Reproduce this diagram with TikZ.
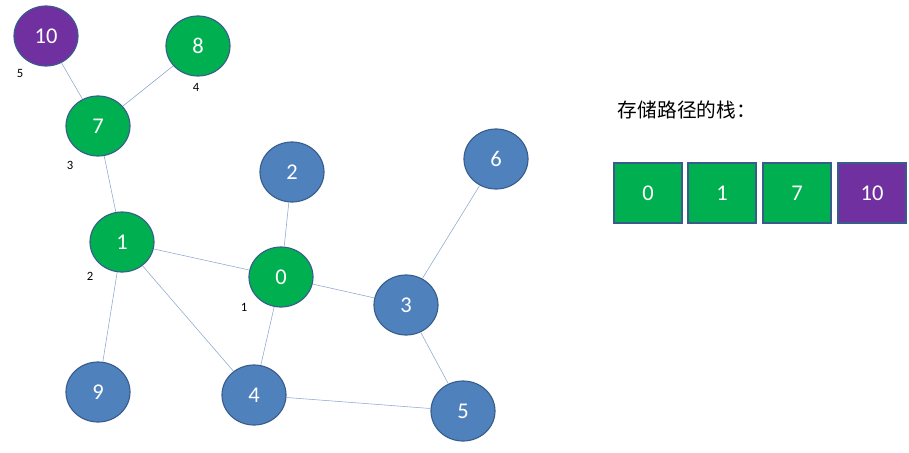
\documentclass[tikz,border=0pt]{standalone}
\usepackage{fontspec}
\setmainfont{Carlito}
\newfontfamily\cjk{Noto Sans CJK SC}
\usetikzlibrary{shapes.geometric}
\definecolor{nblue}{HTML}{4F81BD}
\definecolor{nedge}{HTML}{385D8A}
\definecolor{ngreen}{HTML}{00B050}
\definecolor{npurple}{HTML}{7030A0}
\definecolor{lblue}{HTML}{8EA9CF}
\begin{document}
\begin{tikzpicture}[x=0.025cm, y=-0.025cm,
    vert/.style = {ellipse, draw = nedge, thick, fill = nblue, text = white,
                   minimum width = 1.6cm, minimum height = 1.5cm, inner sep = 0mm,
                   font = \fontsize{16}{18}\selectfont},
    seen/.style = {vert, fill = ngreen},
    last/.style = {vert, fill = npurple},
    cell/.style = {draw = nedge, thick, text = white, minimum width = 1.7cm,
                   minimum height = 1.5cm, font = \fontsize{16}{18}\selectfont},
    num/.style = {font = \fontsize{9}{10}\selectfont},
    link/.style = {draw = lblue, thin},
]
\useasboundingbox (0, 0) rectangle (909, 453);
\node (v10) at (46, 36) [last] {10};
\node (v8) at (198, 46) [seen] {8};
\node (v7) at (98, 126) [seen] {7};
\node (v2) at (292, 172) [vert] {2};
\node (v6) at (496, 159) [vert] {6};
\node (v1) at (122, 242) [seen] {1};
\node (v0) at (281, 277) [seen] {0};
\node (v3) at (406, 305) [vert] {3};
\node (v9) at (98, 392) [vert] {9};
\node (v4) at (254, 395) [vert] {4};
\node (v5) at (463, 411) [vert] {5};

\node (n5) at (20, 73) [num] {5};
\node (n4) at (196, 87) [num] {4};
\node (n3) at (70, 165) [num] {3};
\node (n2) at (90, 276) [num] {2};
\node (n1) at (244, 307) [num] {1};

\path[link] (v10) -- (v7);
\path[link] (v8) -- (v7);
\path[link] (v7) -- (v1);
\path[link] (v1) -- (v0);
\path[link] (v1) -- (v9);
\path[link] (v1) -- (v4);
\path[link] (v2) -- (v0);
\path[link] (v0) -- (v3);
\path[link] (v0) -- (v4);
\path[link] (v6) -- (v3);
\path[link] (v3) -- (v5);
\path[link] (v4) -- (v5);

\node (title) at (613, 110) [anchor = west, font = \cjk\fontsize{14}{16}\selectfont] {存储路径的栈：};
\node (s0) at (648, 193) [cell, fill = ngreen] {0};
\node (s1) at (722, 193) [cell, fill = ngreen] {1};
\node (s2) at (797, 193) [cell, fill = ngreen] {7};
\node (s3) at (872, 193) [cell, fill = npurple] {10};
\end{tikzpicture}
\end{document}
